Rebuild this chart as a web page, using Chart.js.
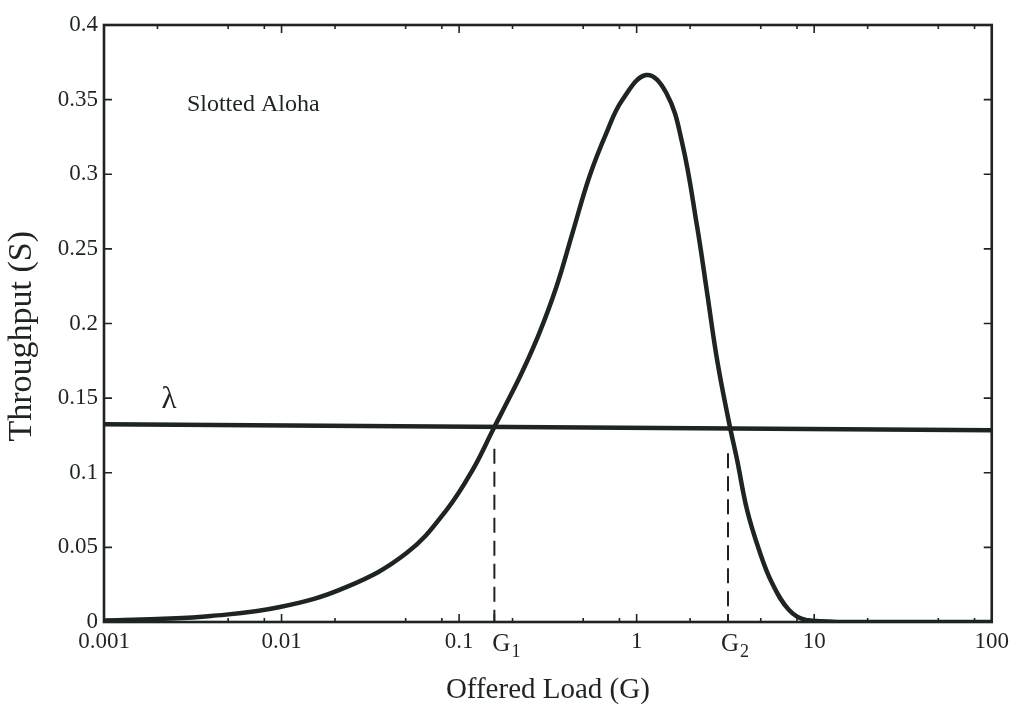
<!DOCTYPE html>
<html><head><meta charset="utf-8">
<style>html,body{margin:0;padding:0;background:#fff}#wrap{width:1015px;height:705px}</style>
<script src="https://cdn.jsdelivr.net/npm/chart.js@4/dist/chart.umd.min.js"></script>
</head><body><div id="wrap"><canvas id="c" width="1015" height="705"></canvas></div>
<script>
// Slotted Aloha throughput curve
const loadG = [0.001, 0.002, 0.004, 0.0098, 0.0233, 0.0506, 0.0849, 0.119, 0.158, 0.185, 0.2275, 0.283, 0.353, 0.435, 0.541, 0.675, 0.830, 1.132, 1.47, 1.805, 2.192, 2.495, 2.840, 3.318, 3.680, 4.188, 4.893, 5.789, 7.216, 8.993, 15, 40, 100];
const throughputS = [0.001, 0.002, 0.004, 0.010, 0.0235, 0.0462, 0.075, 0.1018, 0.1307, 0.1465, 0.1680, 0.1936, 0.2245, 0.2606, 0.2982, 0.3276, 0.3497, 0.3665, 0.3544, 0.321, 0.2647, 0.2204, 0.1755, 0.1333, 0.1085, 0.0750, 0.0482, 0.0261, 0.0080, 0.0013, 0, 0, 0];
// offered rate lambda (horizontal line)
const lambdaG = [0.001, 100];
const lambdaS = [0.1325, 0.1285];
// operating points G1, G2 (dashed drop lines)
const markerG = [0.158, 3.27];
const markerTopS = [0.116, 0.113];
const markerNames = ['G', 'G'];
const markerSubs = ['1', '2'];
// ticks
const xTickValues = [0.001, 0.01, 0.1, 1, 10, 100];
const xTickLabels = ['0.001', '0.01', '0.1', '1', '10', '100'];
const xMinorMult = [2, 5, 8];
const yTickValues = [0, 0.05, 0.1, 0.15, 0.2, 0.25, 0.3, 0.35, 0.4];
const yTickLabels = ['0', '0.05', '0.1', '0.15', '0.2', '0.25', '0.3', '0.35', '0.4'];

const INK = '#1d2421';
const FONT = '"Liberation Serif", "Times New Roman", serif';

const curveData = loadG.map((g, i) => ({x: g, y: throughputS[i]}));
const lambdaData = lambdaG.map((g, i) => ({x: g, y: lambdaS[i]}));
const dropSets = markerG.map((g, i) => ({
  data: [{x: g, y: markerTopS[i]}, {x: g, y: 0}],
  borderColor: INK, borderWidth: 2, borderDash: [15, 8], pointRadius: 0, fill: false
}));
const labelShift = [-2, -7];

const decorPlugin = {
  id: 'decor',
  afterDatasetsDraw(chart) {
    const {ctx, chartArea: a, scales: {x, y}} = chart;
    ctx.save();
    ctx.strokeStyle = INK;
    // inward ticks
    const major = 8, minor = 4;
    ctx.lineWidth = 1.6;
    ctx.beginPath();
    xTickValues.forEach(v => {
      const px = x.getPixelForValue(v);
      ctx.moveTo(px, a.bottom); ctx.lineTo(px, a.bottom - major);
      ctx.moveTo(px, a.top); ctx.lineTo(px, a.top + major);
      if (v < 100) xMinorMult.forEach(m => {
        const mx = x.getPixelForValue(v * m);
        ctx.moveTo(mx, a.bottom); ctx.lineTo(mx, a.bottom - minor);
        ctx.moveTo(mx, a.top); ctx.lineTo(mx, a.top + minor);
      });
    });
    markerG.forEach(g => {
      const px = x.getPixelForValue(g);
      ctx.moveTo(px, a.bottom); ctx.lineTo(px, a.bottom - major);
    });
    yTickValues.forEach(v => {
      const py = y.getPixelForValue(v);
      ctx.moveTo(a.left, py); ctx.lineTo(a.left + major, py);
      ctx.moveTo(a.right, py); ctx.lineTo(a.right - major, py);
    });
    ctx.stroke();
    // frame
    ctx.lineWidth = 2.6;
    ctx.strokeRect(a.left, a.top, a.right - a.left, a.bottom - a.top);
    // text annotations
    ctx.fillStyle = INK;
    ctx.textBaseline = 'middle';
    ctx.textAlign = 'left';
    ctx.font = '24px ' + FONT;
    ctx.fillText('Slotted Aloha', x.getPixelForValue(0.00293), y.getPixelForValue(0.3465));
    ctx.textAlign = 'center';
    ctx.font = '31px ' + FONT;
    ctx.fillText('λ', x.getPixelForValue(0.00232), y.getPixelForValue(0.149));
    // G1, G2 labels with subscripts
    ctx.textAlign = 'left';
    ctx.textBaseline = 'alphabetic';
    markerG.forEach((g, i) => {
      const px = x.getPixelForValue(g) + labelShift[i];
      const base = a.bottom + 29;
      ctx.font = '25px ' + FONT;
      ctx.fillText(markerNames[i], px, base);
      const w = ctx.measureText(markerNames[i]).width;
      ctx.font = '18px ' + FONT;
      ctx.fillText(markerSubs[i], px + w + 1, base + 6);
    });
    ctx.restore();
  }
};

new Chart(document.getElementById('c'), {
  type: 'line',
  data: {
    datasets: [
      {data: curveData, borderColor: INK, borderWidth: 4.5, pointRadius: 0, fill: false, tension: 0.4},
      {data: lambdaData, borderColor: INK, borderWidth: 4.5, pointRadius: 0, fill: false},
      ...dropSets
    ]
  },
  options: {
    responsive: false,
    devicePixelRatio: 1,
    animation: false,
    layout: {padding: {top: 25, right: 18, bottom: 0, left: 0}},
    plugins: {legend: {display: false}, tooltip: {enabled: false}},
    scales: {
      x: {
        type: 'logarithmic', min: 0.001, max: 100,
        afterBuildTicks: s => { s.ticks = xTickValues.map(v => ({value: v})); },
        afterFit: s => { s.height = 83; },
        grid: {display: false, drawTicks: false},
        border: {display: false},
        ticks: {
          autoSkip: false, maxRotation: 0, padding: 6, color: INK,
          font: {family: FONT, size: 23},
          callback: v => { const i = xTickValues.indexOf(v); return i >= 0 ? xTickLabels[i] : ''; }
        },
        title: {display: true, text: 'Offered Load (G)', color: INK, font: {family: FONT, size: 29}, padding: {top: 0, bottom: -3}}
      },
      y: {
        type: 'linear', min: 0, max: 0.4,
        afterBuildTicks: s => { s.ticks = yTickValues.map(v => ({value: v})); },
        afterFit: s => { s.width = 104; },
        grid: {display: false, drawTicks: false},
        border: {display: false},
        ticks: {
          padding: 6, color: INK,
          font: {family: FONT, size: 23},
          callback: v => { const i = yTickValues.findIndex(t => Math.abs(t - v) < 1e-9); return i >= 0 ? yTickLabels[i] : ''; }
        },
        title: {display: true, text: 'Throughput (S)   ', color: INK, font: {family: FONT, size: 34}, padding: {top: 2, bottom: 0}}
      }
    }
  },
  plugins: [decorPlugin]
});
</script>
</body></html>
